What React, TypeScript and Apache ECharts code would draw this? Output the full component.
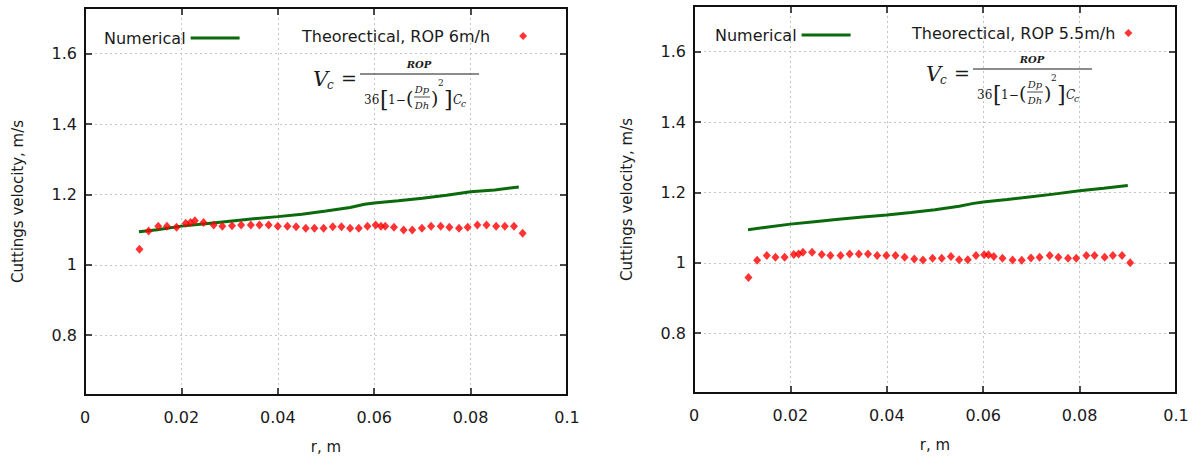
import React, { useEffect, useRef } from "react";
import * as echarts from "echarts";

// ---------------- data ----------------
const xTickValues = [0, 0.02, 0.04, 0.06, 0.08, 0.1];
const yTickValues = [0.8, 1, 1.2, 1.4, 1.6];

const numericalLeftR = [0.0112, 0.015, 0.02, 0.025, 0.03, 0.035, 0.04, 0.045, 0.05, 0.055, 0.058, 0.06, 0.065, 0.07, 0.075, 0.08, 0.085, 0.09];
const numericalLeftV = [1.094, 1.1, 1.11, 1.117, 1.124, 1.131, 1.137, 1.144, 1.153, 1.163, 1.172, 1.176, 1.182, 1.189, 1.198, 1.208, 1.213, 1.221];

const numericalRightR = [0.0112, 0.015, 0.02, 0.025, 0.03, 0.035, 0.04, 0.045, 0.05, 0.055, 0.058, 0.06, 0.065, 0.07, 0.075, 0.08, 0.085, 0.09];
const numericalRightV = [1.094, 1.101, 1.11, 1.117, 1.124, 1.13, 1.136, 1.143, 1.151, 1.161, 1.169, 1.173, 1.18, 1.188, 1.196, 1.205, 1.212, 1.22];

const theoryLeftR = [0.0113, 0.0132, 0.0152, 0.017, 0.019, 0.0209, 0.0219, 0.0228, 0.0246, 0.0267, 0.0285, 0.0305, 0.0324, 0.0344, 0.0362, 0.0381, 0.04, 0.042, 0.0438, 0.0458, 0.0476, 0.0495, 0.0514, 0.0532, 0.055, 0.0568, 0.0586, 0.0603, 0.0614, 0.0623, 0.0641, 0.0661, 0.0679, 0.0699, 0.0718, 0.0738, 0.0756, 0.0776, 0.0794, 0.0814, 0.0833, 0.0853, 0.0871, 0.089, 0.0908];
const theoryLeftV = [1.044, 1.096, 1.11, 1.11, 1.107, 1.118, 1.12, 1.125, 1.12, 1.113, 1.11, 1.111, 1.113, 1.113, 1.113, 1.113, 1.11, 1.11, 1.108, 1.104, 1.104, 1.104, 1.108, 1.108, 1.104, 1.104, 1.11, 1.113, 1.11, 1.11, 1.107, 1.099, 1.099, 1.104, 1.11, 1.11, 1.107, 1.104, 1.107, 1.113, 1.113, 1.11, 1.11, 1.11, 1.09];

const theoryRightR = [0.0113, 0.0131, 0.0151, 0.0169, 0.0188, 0.0207, 0.0217, 0.0226, 0.0245, 0.0265, 0.0283, 0.0304, 0.0323, 0.0342, 0.0361, 0.038, 0.0399, 0.0418, 0.0437, 0.0457, 0.0475, 0.0495, 0.0514, 0.0533, 0.055, 0.0568, 0.0585, 0.0602, 0.0611, 0.0622, 0.064, 0.0661, 0.068, 0.0699, 0.0717, 0.0738, 0.0756, 0.0776, 0.0793, 0.0814, 0.0831, 0.0852, 0.0869, 0.0888, 0.0905];
const theoryRightV = [0.958, 1.007, 1.021, 1.016, 1.016, 1.024, 1.025, 1.03, 1.03, 1.024, 1.021, 1.021, 1.025, 1.025, 1.025, 1.021, 1.021, 1.021, 1.016, 1.011, 1.008, 1.013, 1.013, 1.018, 1.009, 1.009, 1.021, 1.023, 1.023, 1.018, 1.013, 1.008, 1.007, 1.014, 1.016, 1.021, 1.016, 1.013, 1.013, 1.021, 1.021, 1.016, 1.021, 1.021, 1.0];

const seriesNames = ["Numerical", "Theorectical, ROP 6m/h", "Theorectical, ROP 5.5m/h"];
const xAxisTitle = "r, m";
const yAxisTitle = "Cuttings velocity, m/s";

// ---------------- style ----------------
const SANS = '"DejaVu Sans", Verdana, sans-serif';
const SERIF = '"DejaVu Serif", serif';
const INK = "#1a1a1a";
const FRAME = "#111";
const GREEN = "#0b6a0b";
const RED = "#ff0000";
const Y_MIN = 0.63;
const Y_MAX = 1.73;

const zip = (a: number[], b: number[]) => a.map((v, i) => [v, b[i]]);

function formula(ox: number, oy: number): any[] {
  const t = (text: string, x: number, y: number, size: number, extra: any = {}) => ({
    type: "text",
    x: ox + x,
    y: oy + y,
    silent: true,
    z: 10,
    style: { text, fontSize: size, fontFamily: SERIF, fill: INK, align: "left", verticalAlign: "middle", ...extra },
  });
  const it = { fontStyle: "italic" };
  return [
    t("V", 0, 5, 21, it),
    t("c", 14, 11, 12, it),
    t("=", 28, 4, 19),
    { type: "line", silent: true, z: 10, shape: { x1: ox + 47, y1: oy, x2: ox + 166, y2: oy }, style: { stroke: INK, lineWidth: 1 } },
    t("ROP", 106, -10, 10, { ...it, fontWeight: "bold", align: "center" }),
    t("36", 51, 26, 12),
    t("[", 67, 25, 22),
    t("1−", 75, 26, 12),
    t("(", 93, 24, 19),
    t("Dp", 109, 15, 10, { ...it, align: "center" }),
    { type: "line", silent: true, z: 10, shape: { x1: ox + 101, y1: oy + 23, x2: ox + 117, y2: oy + 23 }, style: { stroke: INK, lineWidth: 0.8 } },
    t("Dh", 109, 31, 10, { ...it, align: "center" }),
    t(")", 118, 24, 19),
    t("2", 125, 9, 9),
    t("]", 131, 25, 22),
    t("C", 140, 26, 12, it),
    t("c", 148, 30, 9, it),
  ];
}

const tickStyle = { show: true, inside: true, length: 7, lineStyle: { color: FRAME, width: 1.5 } };
const frameLine = { show: true, onZero: false, lineStyle: { color: FRAME, width: 2 } };
const gridLineStyle = { type: [2, 3], color: "#c4c4c4", width: 1 };

function bottomAxis(gridIndex: number) {
  return {
    type: "value",
    gridIndex,
    position: "bottom",
    min: 0,
    max: 0.1,
    interval: 0.02,
    name: xAxisTitle,
    nameLocation: "middle",
    nameGap: 44,
    nameTextStyle: { fontFamily: SANS, fontSize: 15, color: INK },
    axisLine: frameLine,
    axisTick: tickStyle,
    axisLabel: { show: true, fontFamily: SANS, fontSize: 16, color: INK, margin: 14 },
    splitLine: { show: true, lineStyle: gridLineStyle },
  };
}
function topAxis(gridIndex: number) {
  return {
    type: "value",
    gridIndex,
    position: "top",
    min: 0,
    max: 0.1,
    interval: 0.02,
    axisLine: frameLine,
    axisTick: tickStyle,
    axisLabel: { show: false },
    splitLine: { show: false },
  };
}
const yFmt = (v: number) => (yTickValues.some((t) => Math.abs(t - v) < 1e-6) ? String(Math.round(v * 10) / 10) : "");
function leftAxis(gridIndex: number) {
  return {
    type: "value",
    gridIndex,
    position: "left",
    min: Y_MIN,
    max: Y_MAX,
    splitNumber: 5,
    name: yAxisTitle,
    nameLocation: "middle",
    nameGap: 60,
    nameTextStyle: { fontFamily: SANS, fontSize: 15, color: INK },
    axisLine: frameLine,
    axisTick: tickStyle,
    axisLabel: { show: true, fontFamily: SANS, fontSize: 16, color: INK, margin: 8, formatter: yFmt, showMinLabel: false, showMaxLabel: false },
    splitLine: { show: true, lineStyle: gridLineStyle },
  };
}
function rightAxis(gridIndex: number) {
  return {
    type: "value",
    gridIndex,
    position: "right",
    min: Y_MIN,
    max: Y_MAX,
    splitNumber: 5,
    axisLine: frameLine,
    axisTick: tickStyle,
    axisLabel: { show: false },
    splitLine: { show: false },
  };
}

function legendFor(name: string, left: number, centerY: number, kind: "line" | "dot", gap = 0) {
  return {
    data: [{ name, icon: kind === "line" ? "rect" : "diamond" }],
    left,
    top: centerY - 9,
    orient: "horizontal",
    align: "right",
    padding: 0,
    itemWidth: kind === "line" ? 49 : 8,
    itemHeight: kind === "line" ? 3 : 8,
    selectedMode: false,
    textStyle: { fontFamily: SANS, fontSize: 16, color: INK, lineHeight: 18, padding: [0, gap, 0, 0] },
  };
}

export default function App() {
  const ref = useRef<HTMLDivElement>(null);
  useEffect(() => {
    if (!ref.current) return;
    const chart = echarts.init(ref.current, undefined, { renderer: "svg" });
    const gridBase = { show: true, borderColor: FRAME, borderWidth: 2, backgroundColor: "transparent", containLabel: false, outerBoundsMode: "none" };
    const option: any = {
      animation: false,
      backgroundColor: "#ffffff",
      grid: [
        { ...gridBase, left: 85, top: 8, width: 482, height: 387 },
        { ...gridBase, left: 694, top: 6, width: 482, height: 387 },
      ],
      xAxis: [bottomAxis(0), topAxis(0), bottomAxis(1), topAxis(1)],
      yAxis: [leftAxis(0), rightAxis(0), leftAxis(1), rightAxis(1)],
      legend: [
        legendFor(seriesNames[0], 104, 38, "line"),
        legendFor(seriesNames[1], 302, 36, "dot", 24),
        legendFor(seriesNames[0], 715, 35, "line"),
        legendFor(seriesNames[2], 912, 33, "dot", 4),
      ],
      series: [
        {
          name: seriesNames[0],
          type: "line",
          xAxisIndex: 0,
          yAxisIndex: 0,
          data: zip(numericalLeftR, numericalLeftV),
          symbol: "none",
          color: GREEN,
          lineStyle: { color: GREEN, width: 3 },
          z: 2,
        },
        {
          name: seriesNames[1],
          type: "scatter",
          xAxisIndex: 0,
          yAxisIndex: 0,
          data: zip(theoryLeftR, theoryLeftV),
          symbol: "diamond",
          symbolSize: [8, 9],
          color: RED,
          itemStyle: { color: RED },
          z: 3,
        },
        {
          name: seriesNames[0],
          type: "line",
          xAxisIndex: 2,
          yAxisIndex: 2,
          data: zip(numericalRightR, numericalRightV),
          symbol: "none",
          color: GREEN,
          lineStyle: { color: GREEN, width: 3 },
          z: 2,
        },
        {
          name: seriesNames[2],
          type: "scatter",
          xAxisIndex: 2,
          yAxisIndex: 2,
          data: zip(theoryRightR, theoryRightV),
          symbol: "diamond",
          symbolSize: [8, 9],
          color: RED,
          itemStyle: { color: RED },
          z: 3,
        },
      ],
      graphic: [...formula(313, 74), ...formula(926, 69)],
    };
    chart.setOption(option);
    return () => chart.dispose();
  }, []);
  return (
    <div
      ref={ref}
      style={{ position: "fixed", left: 0, top: 0, width: 1201, height: 466, background: "#fff" }}
    />
  );
}
